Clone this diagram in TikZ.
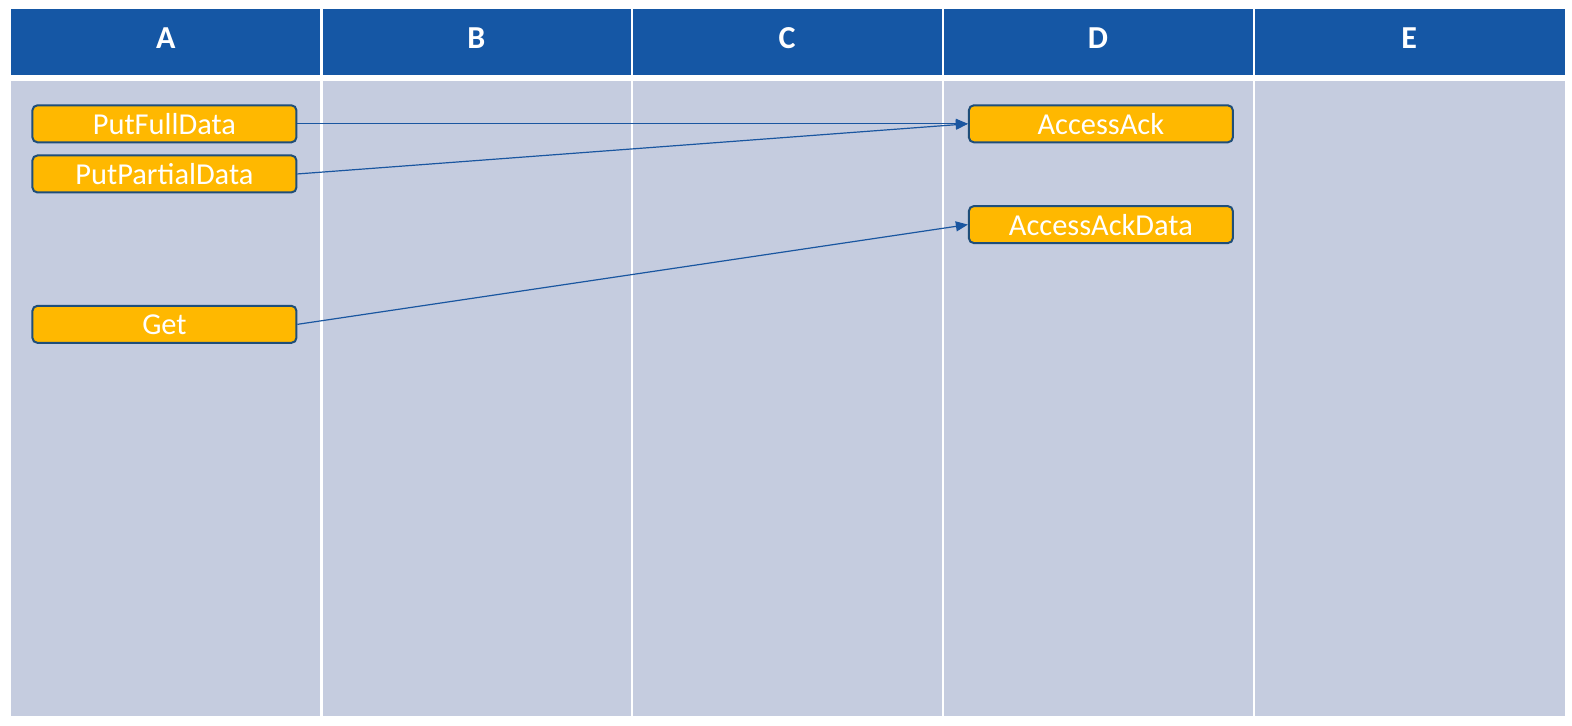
\documentclass[tikz,border=0pt]{standalone}
\usepackage{fontspec}
\setmainfont{Carlito}
\usetikzlibrary{arrows.meta}
\definecolor{hdrblue}{HTML}{1557A5}
\definecolor{bodygray}{HTML}{C5CCDF}
\definecolor{boxfill}{HTML}{FFB800}
\definecolor{boxedge}{HTML}{1F4E79}
\definecolor{arrowblue}{HTML}{1A56A0}
\tikzset{
  msg/.style={draw=boxedge, line width=1pt, fill=boxfill, rounded corners=2.5pt,
    minimum width=132pt, minimum height=18.5pt, inner sep=0pt,
    text=white, font=\fontsize{15.2pt}{15.2pt}\selectfont},
  hdr/.style={text=white, font=\fontsize{16pt}{16pt}\selectfont\bfseries},
  conn/.style={draw=arrowblue, line width=0.6pt, -{Triangle[length=6pt,width=5pt]}},
  divider/.style={draw=white, line width=1.2pt}
}
\begin{document}
\begin{tikzpicture}[x=0.5013pt,y=-0.5013pt]
\useasboundingbox (0,0) rectangle (1567.9,724.1);
\fill[white] (0,0) rectangle (1567.9,724.1);
% header and body
\fill[hdrblue] (11,9) rectangle (1561,75);
\fill[bodygray] (11,81) rectangle (1561,714);
\foreach \x in {320.5,630.5,940.5,1250.5} {
  \draw[divider] (\x,9) -- (\x,714);
}
% header labels
\node[hdr] (hA) at (165.5,38) {A};
\node[hdr] (hB) at (475,38) {B};
\node[hdr] (hC) at (785,38) {C};
\node[hdr] (hD) at (1095,38) {D};
\node[hdr] (hE) at (1405.5,38) {E};
% message boxes
\node[msg] (pfd) at (164,123.5) {PutFullData};
\node[msg] (ppd) at (164,173.5) {PutPartialData};
\node[msg] (get) at (164,323.5) {Get};
\node[msg] (ack) at (1098,123.5) {AccessAck};
\node[msg] (ackd) at (1098,224) {AccessAckData};
% connectors
\draw[conn] (pfd.east) -- (ack.west);
\draw[conn] (ppd.east) -- (ack.west);
\draw[conn] (get.east) -- (ackd.west);
\end{tikzpicture}
\end{document}
